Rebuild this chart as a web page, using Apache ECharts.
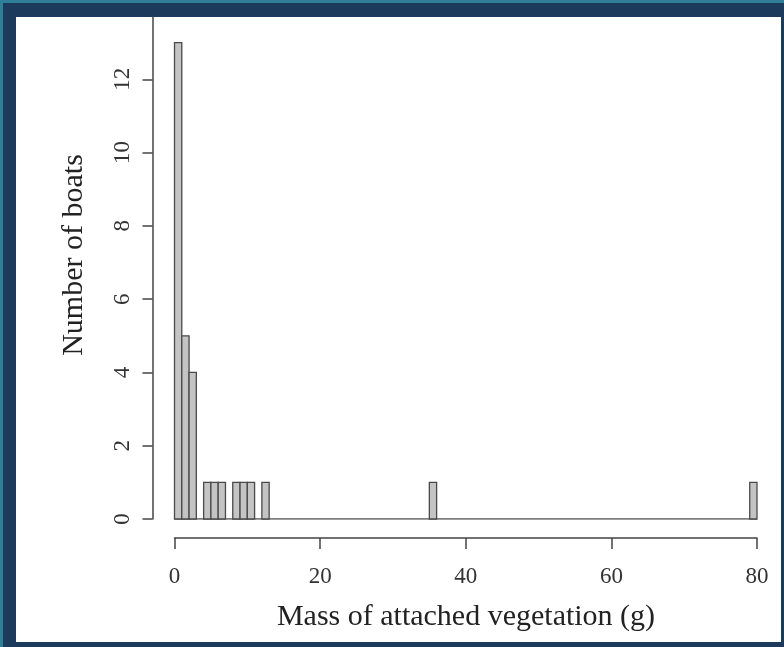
<!DOCTYPE html>
<html>
<head>
<meta charset="utf-8">
<script src="https://cdn.jsdelivr.net/npm/echarts@6/dist/echarts.min.js"></script>
<style>
  html, body { margin: 0; padding: 0; background: #1b3a5c; }
  #chart { width: 784px; height: 647px; }
</style>
</head>
<body>
<div id="chart"></div>
<script>
// Histogram bins (lower edge, g) with non-zero counts; bin width 1 g
const binStarts = [0, 1, 2, 4, 5, 6, 8, 9, 10, 12, 35, 79];
const binCounts = [13, 5, 4, 1, 1, 1, 1, 1, 1, 1, 1, 1];
const binWidth = 1;
const xRange = [0, 80];
const xTicks = [0, 20, 40, 60, 80];
const yTicks = [0, 2, 4, 6, 8, 10, 12];
const xTitle = 'Mass of attached vegetation (g)';
const yTitle = 'Number of boats';

const serif = 'Liberation Serif';
const chart = echarts.init(document.getElementById('chart'), null, { renderer: 'canvas' });

const barData = binStarts.map((s, i) => [s, binCounts[i]]);

chart.setOption({
  animation: false,
  backgroundColor: '#1b3a5c',
  graphic: [
    { type: 'rect', z: -10, shape: { x: 0, y: 0, width: 784, height: 3 }, style: { fill: '#2f7f99' } },
    { type: 'rect', z: -10, shape: { x: 0, y: 0, width: 3, height: 647 }, style: { fill: '#2f7f99' } },
    { type: 'rect', z: -9, shape: { x: 16, y: 17, width: 765, height: 625 }, style: { fill: '#ffffff' } },
    { type: 'text', x: 466, y: 617, style: { text: xTitle, font: '30px "' + serif + '"', fill: '#222', textAlign: 'center', textVerticalAlign: 'middle' } },
    { type: 'text', x: 74, y: 255, rotation: Math.PI / 2, style: { text: yTitle, font: '30px "' + serif + '"', fill: '#222', textAlign: 'center', textVerticalAlign: 'middle' } }
  ],
  grid: { left: 174.5, right: 27, top: 17, bottom: 128, containLabel: false },
  xAxis: {
    type: 'value',
    min: xRange[0], max: xRange[1], interval: 20,
    offset: 19,
    axisLine: { show: true, onZero: false, lineStyle: { color: '#444', width: 1.5 } },
    axisTick: { show: true, length: 11, inside: false, lineStyle: { color: '#444', width: 1.5 }, customValues: xTicks },
    axisLabel: { show: true, margin: 27, fontSize: 23, fontFamily: serif, color: '#333', customValues: xTicks },
    splitLine: { show: false }
  },
  yAxis: {
    type: 'value',
    min: 0, max: 13.7,
    offset: 22,
    axisLine: { show: true, onZero: false, lineStyle: { color: '#444', width: 1.5 } },
    axisTick: { show: true, length: 10, inside: false, lineStyle: { color: '#444', width: 1.5 }, customValues: yTicks },
    axisLabel: { show: true, rotate: 90, margin: 18, fontSize: 23, fontFamily: serif, color: '#333', customValues: yTicks },
    splitLine: { show: false }
  },
  series: [
    {
      type: 'line',
      data: [[xRange[0], 0], [xRange[1], 0]],
      symbol: 'none',
      lineStyle: { color: '#555', width: 1.5 },
      z: 1
    },
    {
      type: 'custom',
      data: barData,
      z: 2,
      renderItem: function (params, api) {
        const x0 = api.value(0);
        const c = api.value(1);
        const p0 = api.coord([x0, c]);
        const p1 = api.coord([x0 + binWidth, 0]);
        return {
          type: 'rect',
          shape: { x: p0[0], y: p0[1], width: p1[0] - p0[0], height: p1[1] - p0[1] },
          style: { fill: '#c4c4c4', stroke: '#4a4a4a', lineWidth: 1.3 }
        };
      }
    }
  ]
});
</script>
</body>
</html>
